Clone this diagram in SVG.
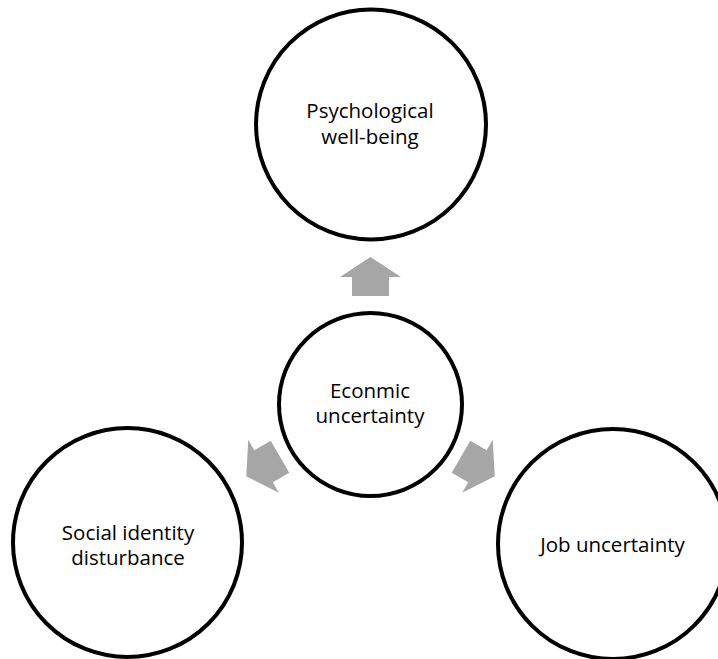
<svg xmlns="http://www.w3.org/2000/svg" xmlns:xlink="http://www.w3.org/1999/xlink" width="718" height="659" viewBox="0 0 718 659">
  <style>
    .node circle { fill: #ffffff; stroke: #000000; stroke-width: 4; }
    .node text { font-family: "Open Sans", "Noto Sans", "Liberation Sans", sans-serif; font-size: 20.5px; fill: #000000; text-anchor: middle; }
    .arrow { fill: #a6a6a6; stroke: none; }
  </style>
  <defs>
    <!-- block arrow pointing up, centred on its own axis -->
    <path id="blockArrow" d="M0,-19.5 L30.5,0.5 L18.5,0.5 L18.5,19.5 L-18.5,19.5 L-18.5,0.5 L-30.5,0.5 Z"/>
  </defs>

  <g id="connectors">
    <use xlink:href="#blockArrow" class="arrow" transform="translate(370.5,404.5) rotate(0) translate(0,-128)"/>
    <use xlink:href="#blockArrow" class="arrow" transform="translate(370.5,404.5) rotate(120) translate(0,-124)"/>
    <use xlink:href="#blockArrow" class="arrow" transform="translate(370.5,404.5) rotate(-120) translate(0,-124)"/>
  </g>

  <g id="node-wellbeing" class="node">
    <circle cx="371" cy="124.5" r="115"/>
    <text x="370" y="118">Psychological</text>
    <text x="370" y="144">well-being</text>
  </g>

  <g id="node-economic" class="node">
    <circle cx="370.5" cy="404.5" r="91.5"/>
    <text x="370" y="398">Econmic</text>
    <text x="370" y="423">uncertainty</text>
  </g>

  <g id="node-social" class="node">
    <circle cx="127.5" cy="542.5" r="114.5"/>
    <text x="128" y="540">Social identity</text>
    <text x="128" y="565">disturbance</text>
  </g>

  <g id="node-job" class="node">
    <circle cx="613" cy="544" r="115"/>
    <text x="612.5" y="552">Job uncertainty</text>
  </g>
</svg>
